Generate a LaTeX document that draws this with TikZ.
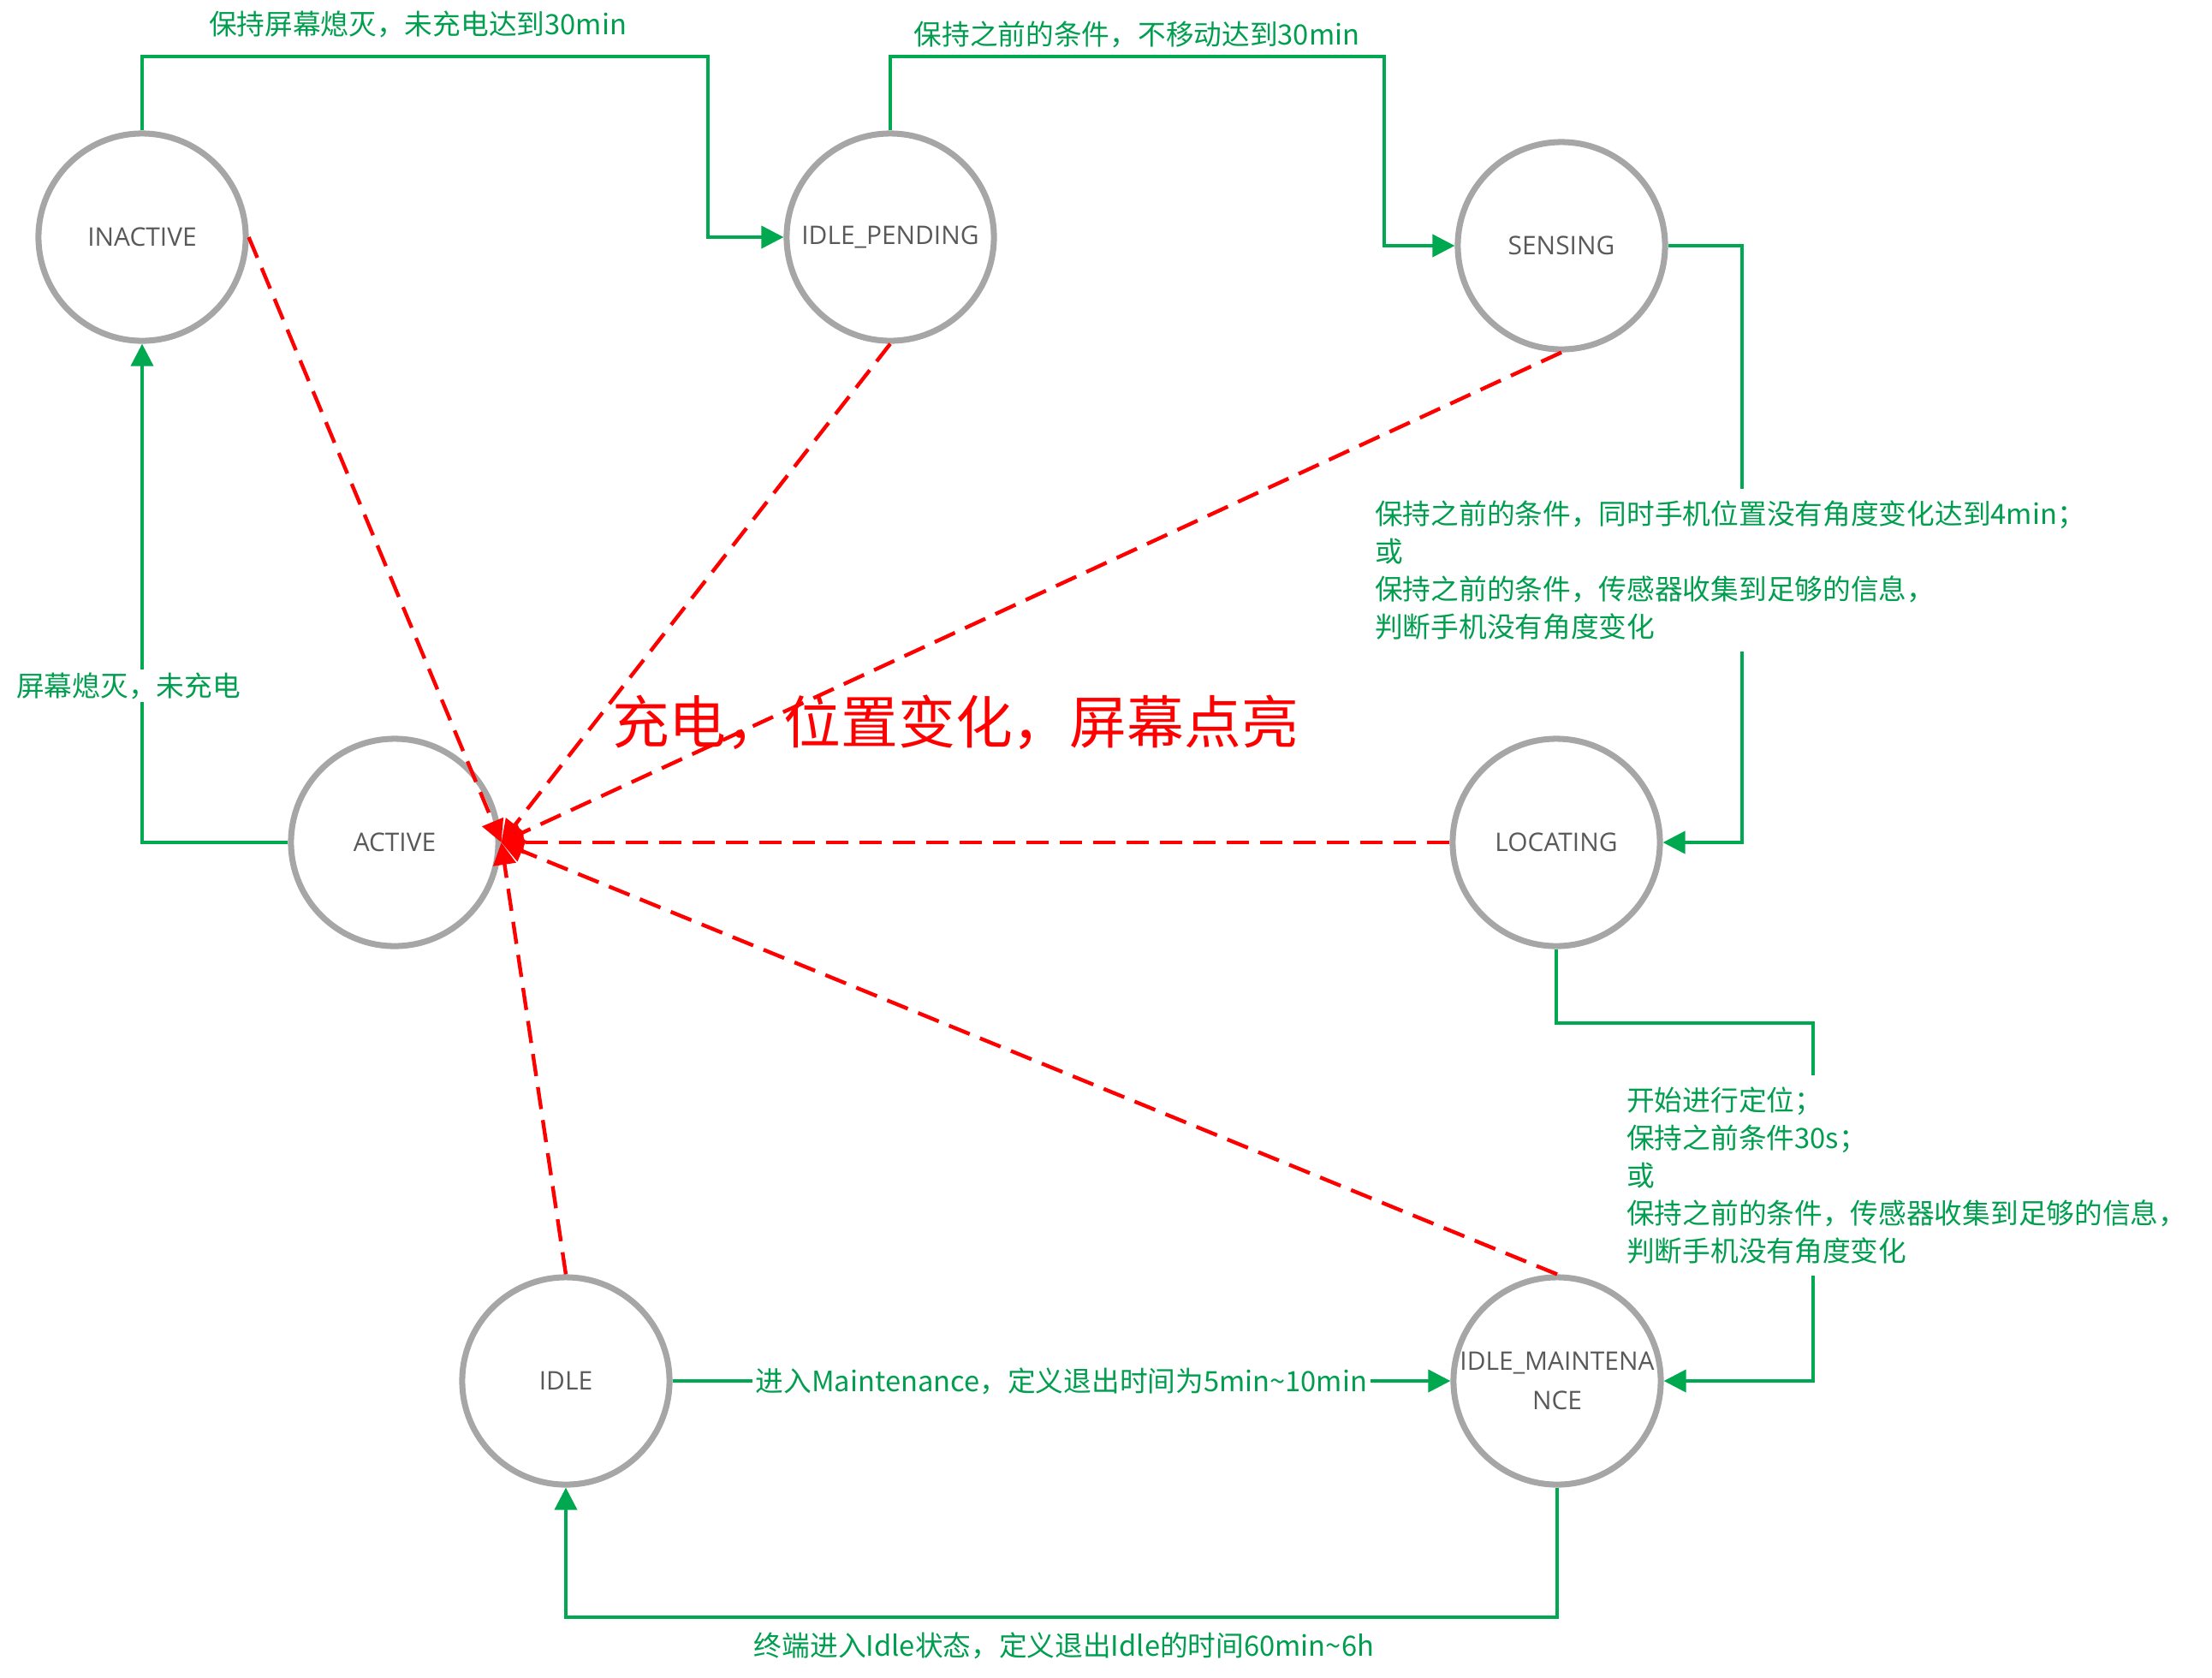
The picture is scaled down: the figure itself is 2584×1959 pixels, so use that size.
\documentclass[tikz,border=0pt]{standalone}
\usepackage{fontspec}
\setmainfont{Open Sans}
\newfontfamily\cjk{Noto Sans CJK SC}
\usepackage{tikz}
\usetikzlibrary{arrows.meta}

\definecolor{stategray}{RGB}{166,166,166}
\definecolor{namegray}{RGB}{89,89,89}
\definecolor{okgreen}{RGB}{0,168,80}
\definecolor{condgreen}{RGB}{0,158,78}

\begin{document}
\begin{tikzpicture}[x=0.01cm, y=-0.01cm,
    state/.style={circle, draw=stategray, line width=2pt, minimum size=2.42cm, inner sep=0pt,
        text=namegray, font=\fontsize{8.5}{13}\selectfont, align=center},
    go/.style={draw=okgreen, line width=1.1pt, -{Triangle[length=2.6mm, width=2.6mm]}},
    wake/.style={draw=red, line width=1.25pt, dash pattern=on 2.6mm off 1.3mm,
        -{Triangle[length=2.6mm, width=2.6mm]}},
    cond/.style={text=condgreen, font=\cjk\fontsize{9.3}{12.5}\selectfont, align=left, inner sep=1pt}
]
    \useasboundingbox (0,0) rectangle (2584,1959);

    % states
    \node[state] (inactive) at (166,277) {INACTIVE};
    \node[state] (idlepend) at (1040,277) {IDLE\_PENDING};
    \node[state] (sensing) at (1824,287) {SENSING};
    \node[state] (active) at (461,984) {ACTIVE};
    \node[state] (locating) at (1818,984) {LOCATING};
    \node[state] (idle) at (661,1613) {IDLE};
    \node[state] (imaint) at (1819,1613) {IDLE\_MAINTENA\\NCE};

    % green transitions
    \draw[go] (inactive.north) |- (827,66) |- (idlepend.west);
    \node[cond] at (488,28) {保持屏幕熄灭，未充电达到30min};

    \draw[go] (idlepend.north) |- (1617,66) |- (sensing.west);
    \node[cond] at (1328,40) {保持之前的条件，不移动达到30min};

    \draw[go] (sensing.east) -- ++(86,0) |- (locating.east);
    \node[cond, anchor=west, fill=white, inner ysep=4pt] at (1602,666)
        {保持之前的条件，同时手机位置没有角度变化达到4min；\\或\\保持之前的条件，传感器收集到足够的信息，\\判断手机没有角度变化};

    \draw[go] (locating.south) |- (2118,1195) |- (imaint.east);
    \node[cond, anchor=west, fill=white, inner ysep=4pt] at (1896,1373)
        {开始进行定位；\\保持之前条件30s；\\或\\保持之前的条件，传感器收集到足够的信息，\\判断手机没有角度变化};

    \draw[go] (idle.east) -- node[cond, fill=white] {进入Maintenance，定义退出时间为5min\textasciitilde10min} (imaint.west);

    \draw[go] (imaint.south) -- ++(0,151) -| (idle.south);
    \node[cond] at (1243,1922) {终端进入Idle状态，定义退出Idle的时间60min\textasciitilde6h};

    \draw[go] (active.west) -| (inactive.south);
    \node[cond, fill=white] at (150,801) {屏幕熄灭，未充电};

    % red wake-up transitions
    \draw[wake] (inactive.east) -- (active.east);
    \draw[wake] (idlepend.south) -- (active.east);
    \draw[wake] (sensing.south) -- (active.east);
    \draw[wake] (locating.west) -- (active.east);
    \draw[wake] (imaint.north) -- (active.east);
    \draw[wake] (idle.north) -- (active.east);
    \node[text=red, font=\cjk\fontsize{19}{22}\selectfont] at (1116,844) {充电，位置变化，屏幕点亮};
\end{tikzpicture}
\end{document}
